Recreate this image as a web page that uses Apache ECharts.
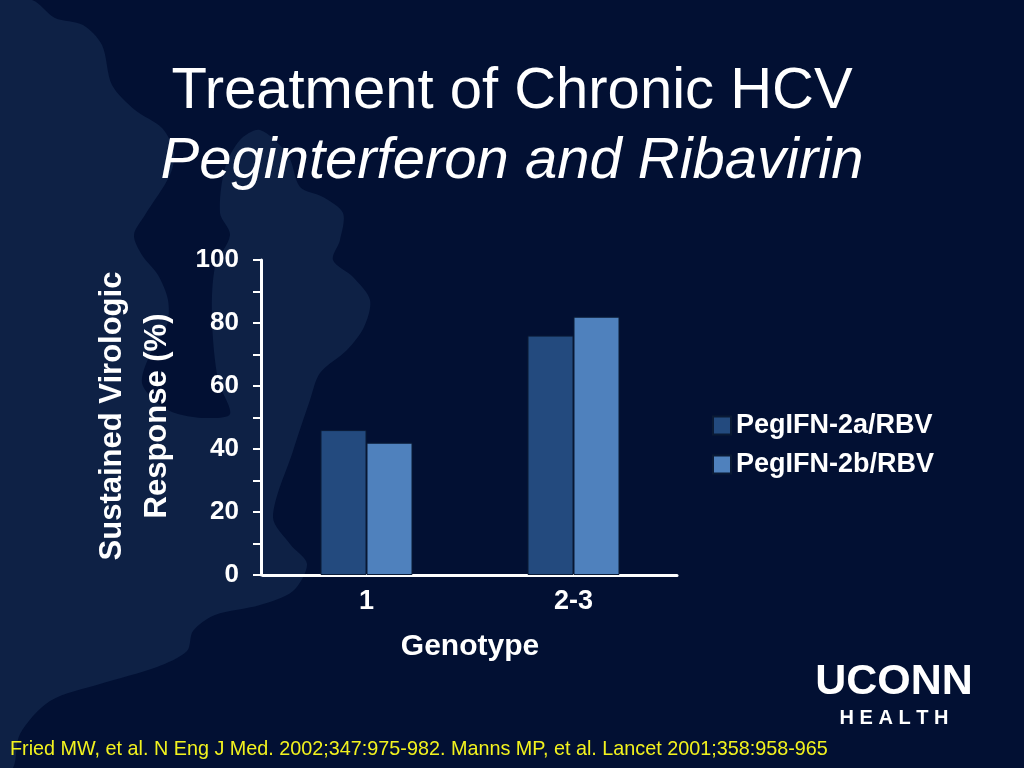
<!DOCTYPE html>
<html>
<head>
<meta charset="utf-8">
<script src="https://cdn.jsdelivr.net/npm/echarts@6/dist/echarts.min.js"></script>
<style>html,body{margin:0;padding:0;background:#021033;}#c{width:1024px;height:768px;}</style>
</head>
<body>
<div id="c"></div>
<script>
var categories = ['1', '2-3'];
var seriesNames = ['PegIFN-2a/RBV', 'PegIFN-2b/RBV'];
var peg2a = [46, 76];
var peg2b = [42, 82];
var yTicks = [0, 20, 40, 60, 80, 100];

var FF = 'Liberation Sans, Arial, Helvetica, sans-serif';
var chart = echarts.init(document.getElementById('c'), null, {renderer: 'canvas'});

var leaf = [[0,0],[32,0],[55,18],[83,25],[102,45],[112,85],[135,110],[162,128],[174,152],[170,175],[145,215],[134,235],[142,255],[158,275],[168,300],[167,325],[152,350],[142,383],[160,405],[178,414],[205,418],[230,414],[218,380],[212,320],[215,267],[230,235],[220,213],[225,168],[240,140],[260,130],[288,155],[300,187],[323,197],[343,213],[340,240],[333,260],[353,277],[370,300],[364,327],[347,350],[320,373],[310,400],[293,451],[273,517],[290,544],[307,564],[293,591],[260,605],[215,615],[193,631],[187,651],[157,667],[100,684],[50,701],[20,734],[13,768],[0,768]];

var option = {
  backgroundColor: '#021033',
  animation: false,
  title: [
    {text: 'Treatment of Chronic HCV', left: 'center', top: 58,
     textStyle: {color: '#ffffff', fontFamily: FF, fontSize: 58, fontWeight: 'normal'}},
    {text: 'Peginterferon and Ribavirin', left: 'center', top: 128,
     textStyle: {color: '#ffffff', fontFamily: FF, fontSize: 58, fontWeight: 'normal', fontStyle: 'italic'}}
  ],
  legend: {
    orient: 'vertical', left: 707, top: 407,
    itemWidth: 18, itemHeight: 18, itemGap: 12,
    icon: 'rect',
    data: seriesNames,
    textStyle: {color: '#ffffff', fontFamily: FF, fontSize: 27, fontWeight: 'bold'}
  },
  grid: {left: 263, right: 347, top: 260, bottom: 193, containLabel: false},
  xAxis: {
    type: 'category', data: categories,
    axisLine: {lineStyle: {color: '#ffffff', width: 3}},
    axisTick: {show: false},
    axisLabel: {color: '#ffffff', fontFamily: FF, fontSize: 27, fontWeight: 'bold', margin: 13},
    name: 'Genotype', nameLocation: 'middle', nameGap: 57,
    nameTextStyle: {color: '#ffffff', fontFamily: FF, fontSize: 30, fontWeight: 'bold'}
  },
  yAxis: {
    type: 'value', min: 0, max: 100, interval: 10, offset: 2,
    axisLine: {show: true, lineStyle: {color: '#ffffff', width: 3}},
    axisTick: {show: true, length: 8, lineStyle: {color: '#ffffff', width: 2}},
    splitLine: {show: false},
    axisLabel: {color: '#ffffff', fontFamily: FF, fontSize: 26, fontWeight: 'bold', margin: 22,
      formatter: function (v) { return yTicks.indexOf(v) >= 0 ? String(v) : ''; }}
  },
  series: [
    {name: seriesNames[0], type: 'bar', data: peg2a, barWidth: 46, barGap: '0%',
     itemStyle: {color: '#234a7e', borderColor: '#0a1a35', borderWidth: 1}},
    {name: seriesNames[1], type: 'bar', data: peg2b, barWidth: 46, barGap: '0%',
     itemStyle: {color: '#4f81bd', borderColor: '#0a1a35', borderWidth: 1}}
  ],
  graphic: [
    {type: 'polygon', z: -10, silent: true, shape: {points: leaf, smooth: 0.3}, style: {fill: '#0e2145'}},
    {type: 'text', x: 135, y: 416, rotation: Math.PI / 2,
     style: {text: 'Sustained Virologic\nResponse (%)', fill: '#ffffff', fontFamily: FF, fontSize: 31,
             fontWeight: 'bold', align: 'center', verticalAlign: 'middle', lineHeight: 45}},
    {type: 'text', x: 894, y: 682,
     style: {text: 'UCONN', fill: '#ffffff', fontFamily: FF, fontSize: 43, fontWeight: 'bold',
             align: 'center', verticalAlign: 'middle'}},
    {type: 'text', x: 894, y: 718,
     style: {text: 'H E A L T H', fill: '#ffffff', fontFamily: FF, fontSize: 20, fontWeight: 'bold',
             align: 'center', verticalAlign: 'middle'}},
    {type: 'text', x: 10, y: 750,
     style: {text: 'Fried MW, et al. N Eng J Med. 2002;347:975-982. Manns MP, et al. Lancet 2001;358:958-965',
             fill: '#f2f21e', fontFamily: FF, fontSize: 19.8,
             align: 'left', verticalAlign: 'middle'}}
  ]
};
chart.setOption(option);
</script>
</body>
</html>
